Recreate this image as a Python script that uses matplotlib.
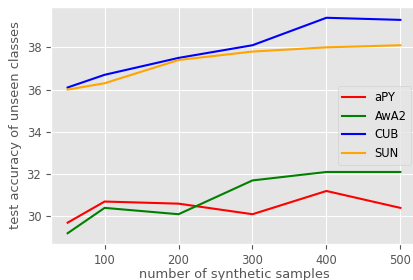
import matplotlib
matplotlib.use("Agg")
import matplotlib.pyplot as plt

plt.style.use("ggplot")
plt.rcParams["font.size"] = 8.3
plt.rcParams["axes.labelsize"] = 9.4

# ── Datos ─────────────────────────────────────────────
samples = [50, 100, 200, 300, 400, 500]
apy = [29.7, 30.7, 30.6, 30.1, 31.2, 30.4]
awa2 = [29.2, 30.4, 30.1, 31.7, 32.1, 32.1]
cub = [36.1, 36.7, 37.5, 38.1, 39.4, 39.3]
sun = [36.0, 36.3, 37.4, 37.8, 38.0, 38.1]

# el eje se sale un poco por la derecha, como en la original
fig = plt.figure(figsize=(4.13, 2.8), dpi=100)
ax = fig.add_axes([51 / 413, 36 / 280, 366 / 413, 237 / 280])
ax.plot(samples, apy, color="red", label="aPY")
ax.plot(samples, awa2, color="green", label="AwA2")
ax.plot(samples, cub, color="blue", label="CUB")
ax.plot(samples, sun, color="orange", label="SUN")

ax.set_xlabel("number of synthetic samples", labelpad=1)
ax.set_ylabel("test accuracy of unseen classes", labelpad=3)
ax.legend(loc="center right")
fig.savefig("out.png", dpi=100)
